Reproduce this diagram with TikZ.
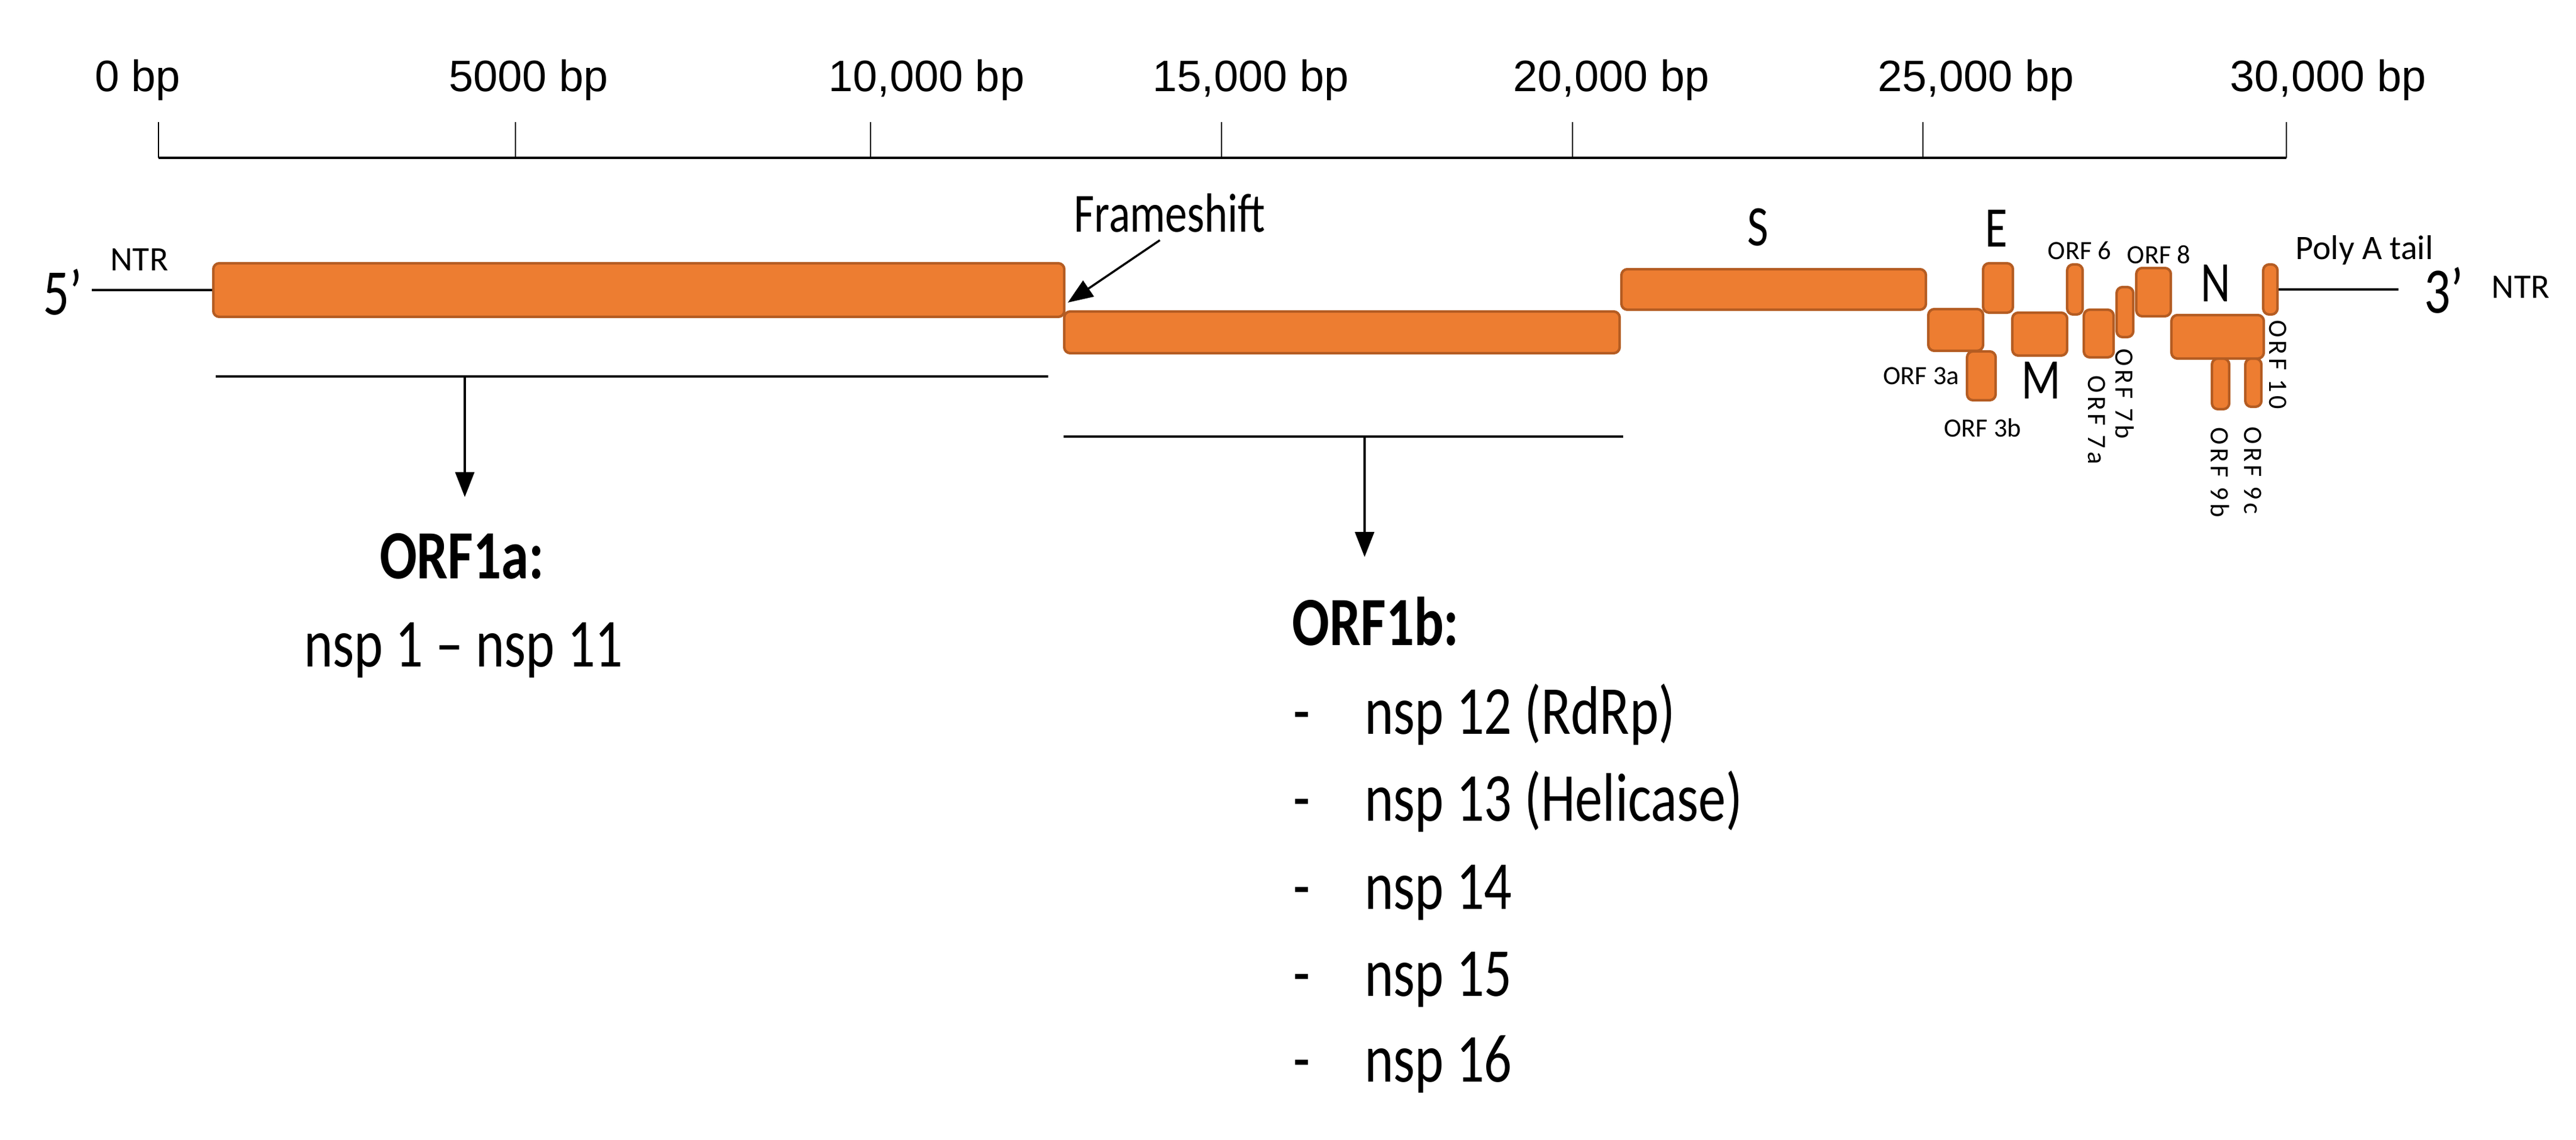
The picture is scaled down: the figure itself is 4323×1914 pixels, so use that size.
\documentclass[tikz,border=0pt]{standalone}
\usepackage{fontspec}
\setmainfont{Carlito}[FakeStretch=0.8]
\newfontfamily\plainfont{Carlito}
\newfontfamily\vertfont{Carlito}[LetterSpace=12]
\newfontfamily\axisfont{Liberation Sans}
\usetikzlibrary{arrows.meta,positioning}
\definecolor{orforange}{RGB}{237,125,49}
\definecolor{orfedge}{RGB}{180,92,34}
\tikzset{
    gene/.style={rectangle,draw=orfedge,fill=orforange,line width=0.6pt,rounded corners=0.5mm,inner sep=0pt},
    rna/.style={-,line width=0.7pt},
    ruler/.style={-,line width=0.65pt},
    rulertick/.style={-,line width=0.4pt},
    pointer/.style={-{Triangle[length=2.1mm,width=1.6mm]},line width=0.5pt},
    txt/.style={inner sep=0pt,anchor=base},
    rulerlabel/.style={txt,font=\axisfont\fontsize{10.5}{12}\selectfont},
    orfhead/.style={txt,font=\bfseries\fontsize{16.5}{20}\selectfont},
    listtext/.style={txt,font=\fontsize{16.4}{20}\selectfont},
    genelabel/.style={txt,font=\fontsize{13.7}{16}\selectfont},
    endlabel/.style={txt,font=\fontsize{15.5}{18}\selectfont},
    ntrlabel/.style={txt,font=\plainfont\fontsize{8.2}{10}\selectfont},
    smalllabel/.style={txt,font=\plainfont\fontsize{6.3}{8}\selectfont},
    vertlabel/.style={inner sep=0pt,rotate=-90,font=\vertfont\fontsize{6.3}{8}\selectfont}
}

\begin{document}
\begin{tikzpicture}[x=0.05mm,y=-0.05mm]
    \useasboundingbox (0,0) rectangle (4323,1914);

    % scale
    \coordinate (bp start) at (266,265);
    \coordinate (bp end) at (3837,265);
    \draw[ruler] (bp start) -- (bp end);
    \foreach \t/\c/\lbl [count=\i] in {266/231/0 bp, 865/887/5000 bp, 1461/1555/{10,000 bp}, 2050/2099/{15,000 bp},
                                        2639/2704/{20,000 bp}, 3227/3316/{25,000 bp}, 3837/3907/{30,000 bp}}{
        \coordinate (tick \i) at (\t,205);
        \draw[rulertick] (tick \i) -- (tick \i |- bp start);
        \node[rulerlabel] (mark \i) at (\c,154) {\lbl};
    }

    % genome
    \node[gene,minimum width=71.4mm,minimum height=4.5mm]  (orf1a) at (1072,487)   {};
    \node[gene,minimum width=46.6mm,minimum height=3.5mm]  (orf1b) at (2252,558)   {};
    \node[gene,minimum width=25.55mm,minimum height=3.4mm] (spike) at (2976.5,486) {};
    \node[gene,minimum width=2.4mm,minimum height=4.1mm]   (orf3b) at (3325,631)   {};
    \node[gene,minimum width=4.6mm,minimum height=3.5mm]   (orf3a) at (3282,554)   {};
    \node[gene,minimum width=2.5mm,minimum height=4.15mm]  (envelope) at (3353,483.5) {};
    \node[gene,minimum width=4.6mm,minimum height=3.6mm]   (membrane) at (3423,561) {};
    \node[gene,minimum width=1.3mm,minimum height=4.2mm]   (orf6) at (3482,486)    {};
    \node[gene,minimum width=2.5mm,minimum height=4mm]     (orf7a) at (3522,560)   {};
    \node[gene,minimum width=1.4mm,minimum height=4.2mm]   (orf7b) at (3566,524)   {};
    \node[gene,minimum width=2.9mm,minimum height=4.05mm]  (orf8) at (3614,490.5)  {};
    \node[gene,minimum width=1.45mm,minimum height=4.25mm] (orf9b) at (3726.5,644.5) {};
    \node[gene,minimum width=1.35mm,minimum height=4.05mm] (orf9c) at (3781.5,642.5) {};
    \node[gene,minimum width=7.75mm,minimum height=3.65mm] (nucleo) at (3721.5,565.5) {};
    \node[gene,minimum width=1.2mm,minimum height=4.2mm]   (orf10) at (3810,486)   {};

    \node[endlabel] (five prime) at (105,529) {5’};
    \node[ntrlabel] (ntr five) at (234,455) {NTR};
    \coordinate (cap) at (154,487);
    \draw[rna] (cap) -- (orf1a);

    \node[endlabel] (three prime) at (4101,526) {3’};
    \node[ntrlabel] (ntr three) at (4230,501) {NTR};
    \node[ntrlabel] (poly a) at (3968,436) {Poly A tail};
    \coordinate (tail) at (4025,486);
    \draw[rna] (orf10) -- (tail);

    \node[genelabel] (label s) at (2950,413) {S};
    \node[genelabel] (label e) at (3350,415) {E};
    \node[genelabel] (label m) at (3425,670) {M};
    \node[genelabel] (label n) at (3718,507) {N};
    \node[smalllabel] (label 6) at (3490,436) {ORF 6};
    \node[smalllabel] (label 8) at (3623,443) {ORF 8};
    \node[smalllabel] (label 3a) at (3224,646) {ORF 3a};
    \node[smalllabel] (label 3b) at (3327,734) {ORF 3b};
    \node[vertlabel] (label 7a) at (3519,705) {ORF 7a};
    \node[vertlabel] (label 7b) at (3566,661) {ORF 7b};
    \node[vertlabel] (label 9b) at (3726,793) {ORF 9b};
    \node[vertlabel] (label 9c) at (3781,790) {ORF 9c};
    \node[vertlabel] (label 10) at (3823,612) {ORF 10};

    % frameshift
    \node[genelabel,font=\fontsize{13.2}{16}\selectfont] (frameshift) at (1963,390) {Frameshift};
    \coordinate (shift site) at (1792,508);
    \draw[pointer,shorten <=1mm] (frameshift.south) -- (shift site);

    % ORF1a products
    \coordinate (orf1a left) at (362,632);
    \coordinate (orf1a right) at (1759,632);
    \coordinate (orf1a mid) at (780,632);
    \draw[rna] (orf1a left) -- (orf1a right);
    \node[orfhead] (orf1a head) at (775,972) {ORF1a:};
    \node[listtext] (orf1a nsp) at (778,1120) {nsp 1 -- nsp 11};
    \draw[pointer,shorten >=3mm] (orf1a mid) -- (orf1a mid |- orf1a head.north);

    % ORF1b products
    \coordinate (orf1b left) at (1785,733);
    \coordinate (orf1b right) at (2724,733);
    \coordinate (orf1b mid) at (2290,733);
    \draw[rna] (orf1b left) -- (orf1b right);
    \node[orfhead,anchor=base west] (orf1b head) at (2167,1084) {ORF1b:};
    \draw[pointer,shorten >=3.3mm] (orf1b mid) -- (orf1b mid |- orf1b head.north);
    \foreach \y/\item [count=\i] in {1233/{nsp 12 (RdRp)}, 1379/{nsp 13 (Helicase)}, 1527/nsp 14, 1673/nsp 15, 1816/nsp 16}{
        \node[listtext,anchor=base west] (dash \i) at (2169,\y) {-};
        \node[listtext,anchor=base west] (nsp \i) at (2289,\y) {\item};
    }

\end{tikzpicture}
\end{document}
